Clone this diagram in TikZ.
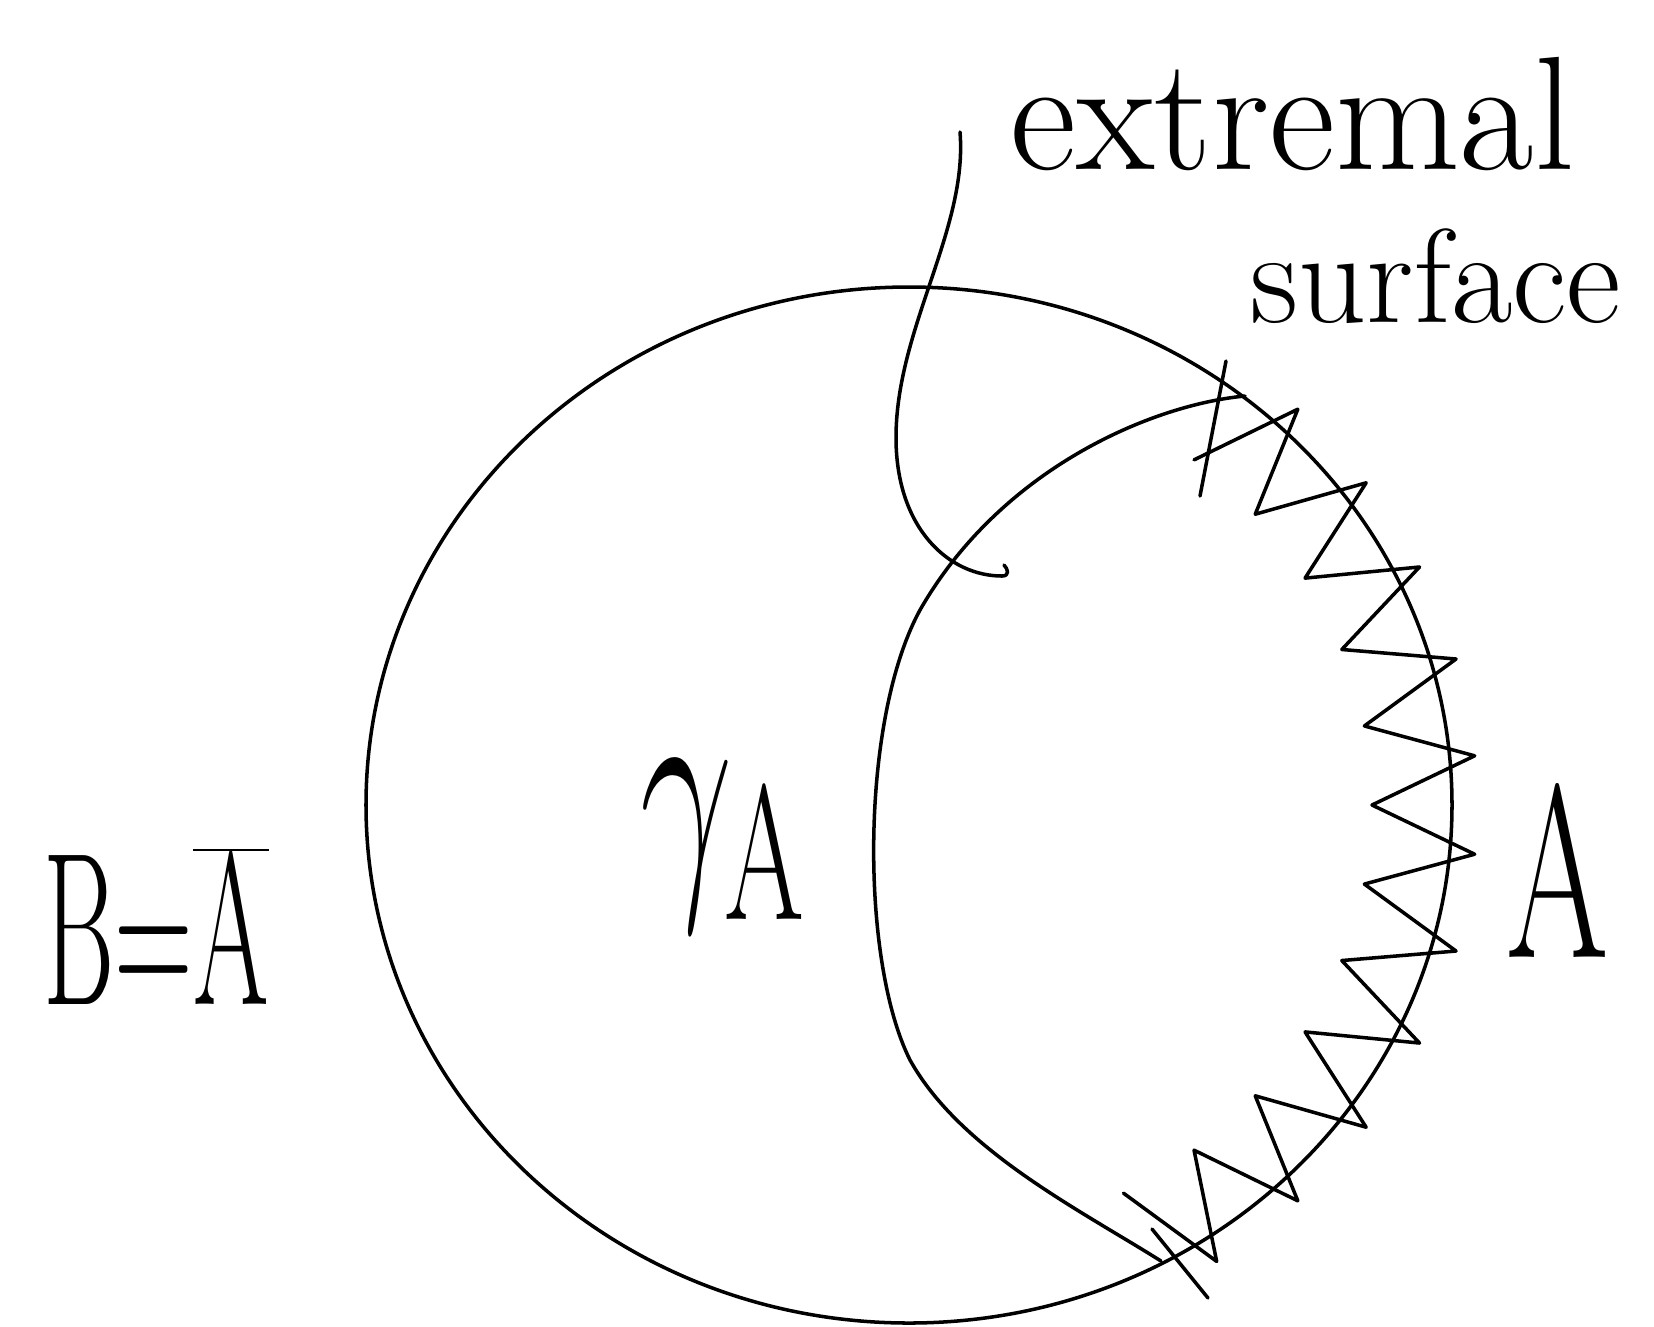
\RequirePackage{fix-cm}
\documentclass[tikz,border=0pt]{standalone}
\usepackage{graphicx}
\newcommand{\squeeze}[2]{\scalebox{#1}[1]{#2}}

\begin{document}
\begin{tikzpicture}[x=0.01cm, y=-0.01cm,
  ink/.style={line width=1pt, line cap=round, line join=round},
  hand/.style={inner sep=0pt, font=\fontsize{46}{46}\selectfont}]
  \useasboundingbox (0,0) rectangle (1654,1326);
  % boundary circle
  \draw[ink] (909,805) ellipse [x radius=543, y radius=518];
  % extremal surface, ends marked on the boundary
  \coordinate (top) at (1245,396);
  \coordinate (bot) at (1161,1261);
  \draw[ink] (top) .. controls (1150,405) and (1000,470) .. (920,610)
    .. controls (860,720) and (860,960) .. (910,1060)
    .. controls (960,1150) and (1080,1210) .. (bot);
  \draw[ink] (1226,361) -- (1200,496);
  \draw[ink] (1152,1229) -- (1208,1298);
  % region A drawn as a zigzag along the boundary
  \draw[ink] plot[domain=0:22, samples=23, variable=\k]
    ({909+(543+(mod(round(\k),2)==1 ? 25 : -80))*cos(52-5.2*\k)},
     {805-(518+(mod(round(\k),2)==1 ? 25 : -80))*sin(52-5.2*\k)});
  % labels
  \node[hand, anchor=base west] (extremal) at (1010,169) {extremal};
  \node[hand, font=\fontsize{38}{38}\selectfont, anchor=base west] (surface) at (1250,322) {surface};
  \node[inner sep=0pt, font=\fontsize{78}{78}\selectfont] (gammaA) at (723,846) {\squeeze{0.6}{$\gamma_{\mathrm{A}}$}};
  \node[inner sep=0pt, font=\fontsize{70}{70}\selectfont] (regA) at (1558,870) {\squeeze{0.6}{A}};
  \node[inner sep=0pt, font=\fontsize{62}{62}\selectfont] (regB) at (156,926) {\squeeze{0.5}{$\mathrm{B}{=}\overline{\mathrm{A}}$}};
  % leader from the label to the surface
  \coordinate (lead) at (960,132);
  \coordinate (hook) at (1002,576);
  \draw[ink] (lead) .. controls (968,230) and (895,330) .. (896,440)
    .. controls (897,530) and (950,576) .. (hook)
    .. controls (1010,576) and (1008,569) .. (1004,565);
\end{tikzpicture}
\end{document}
